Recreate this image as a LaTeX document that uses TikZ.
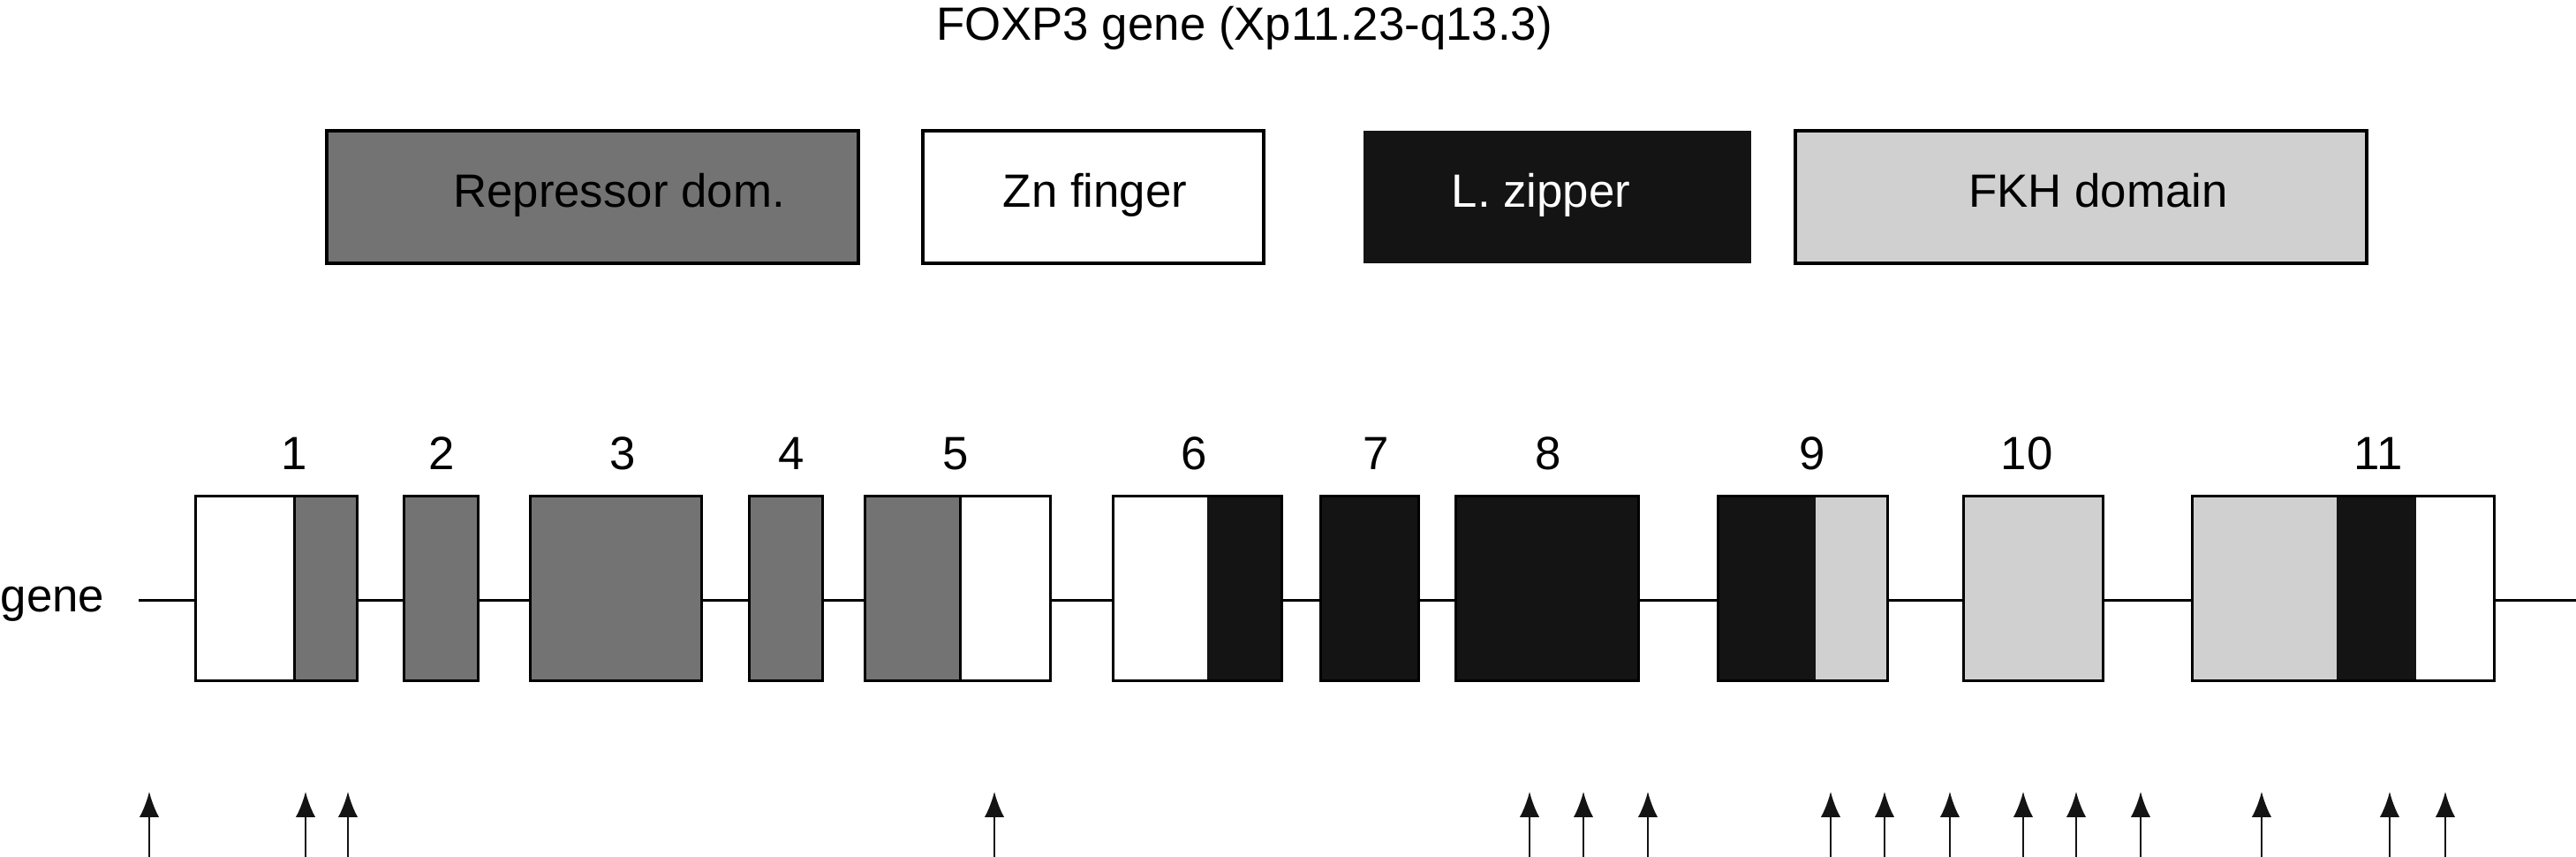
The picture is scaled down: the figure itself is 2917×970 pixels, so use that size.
\documentclass[tikz,border=0pt]{standalone}
\usepackage{fontspec}
\setmainfont{Liberation Sans}
\usetikzlibrary{arrows.meta}
\definecolor{repcol}{HTML}{737373}
\definecolor{zipcol}{HTML}{141414}
\definecolor{fkhcol}{HTML}{D0D0D0}
\tikzset{
  lbl/.style={font=\fontsize{13.2pt}{15pt}\selectfont, inner sep=0pt, anchor=base},
  dombox/.style={draw=black, line width=0.8pt, inner sep=0pt},
  exonline/.style={draw=black, line width=0.75pt},
  site/.style={draw=zipcol, line width=0.6pt, -{Latex[length=7.25pt,width=5.6pt]}},
}
\begin{document}
\begin{tikzpicture}[x=0.25pt,y=-0.25pt]
\useasboundingbox (0,0) rectangle (2917,970);
% title
\node[lbl] (title) at (1409,46) {FOXP3 gene (Xp11.23-q13.3)};
% domain legend boxes
\path[dombox, fill=repcol] (370,148) rectangle (972,298);
\node[lbl] (rep) at (701,235) {Repressor dom.};
\path[dombox, fill=white] (1045,148) rectangle (1431,298);
\node[lbl] (zn) at (1240,235) {Zn finger};
\path[fill=zipcol] (1544,148) rectangle (1983,298);
\node[lbl, text=white] (zip) at (1745,235) {L. zipper};
\path[dombox, fill=fkhcol] (2033,148) rectangle (2680,298);
\node[lbl] (fkh) at (2376,235) {FKH domain};
% gene line
\node[lbl, anchor=base west] (genelbl) at (0,693) {gene};
\coordinate (gstart) at (157,680);
\coordinate (gend) at (2917,680);
\draw[exonline] (gstart) -- (gend);
% exons: fills
\fill[white]  (221,562) rectangle (333,771);
\fill[repcol] (333,562) rectangle (404,771);
\fill[repcol] (457,562) rectangle (541,771);
\fill[repcol] (600,562) rectangle (794,771);
\fill[repcol] (848,562) rectangle (931,771);
\fill[repcol] (979,562) rectangle (1087,771);
\fill[white]  (1087,562) rectangle (1189,771);
\fill[white]  (1260,562) rectangle (1367,771);
\fill[zipcol] (1367,562) rectangle (1451,771);
\fill[zipcol] (1495,562) rectangle (1606,771);
\fill[zipcol] (1648,562) rectangle (1855,771);
\fill[zipcol] (1945,562) rectangle (2056,771);
\fill[fkhcol] (2056,562) rectangle (2137,771);
\fill[fkhcol] (2223,562) rectangle (2381,771);
\fill[fkhcol] (2482,562) rectangle (2646,771);
\fill[zipcol] (2646,562) rectangle (2736,771);
\fill[white]  (2736,562) rectangle (2824,771);
% exons: outlines
\foreach \l/\r in {221/404,457/541,600/794,848/931,979/1189,1260/1451,1495/1606,1648/1855,1945/2137,2223/2381,2482/2824}
  \draw[exonline] (\l,562) rectangle (\r,771);
\draw[exonline] (333,562) -- (333,771);
\draw[exonline] (1087,562) -- (1087,771);
% exon numbers
\foreach \x/\n in {333/1,500/2,705/3,896/4,1082/5,1352/6,1558/7,1753/8,2052/9,2295/10,2693/11}
  \node[lbl] (ex\n) at (\x,532) {\n};
% arrows (sites)
\foreach \x [count=\i] in {169,346,394,1126,1732,1793,1866,2073,2134,2208,2291,2351,2424,2561,2706,2769} {
  \coordinate (s\i) at (\x,970);
  \coordinate (t\i) at (\x,896);
  \draw[site] (s\i) -- (t\i);
}
\end{tikzpicture}
\end{document}
